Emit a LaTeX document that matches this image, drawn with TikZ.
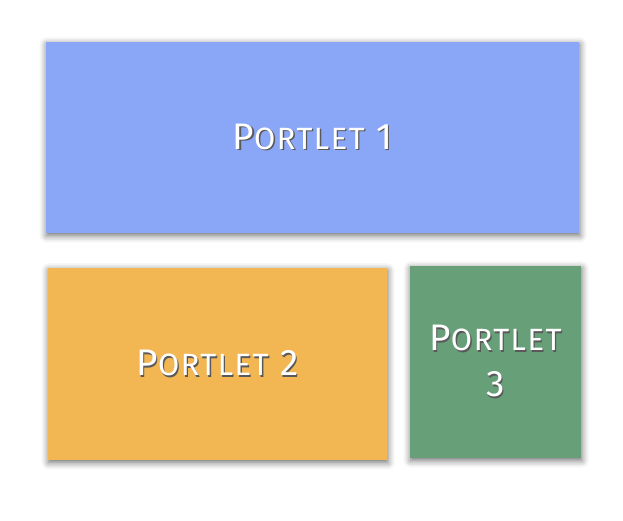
\documentclass[tikz,border=0pt]{standalone}
\usepackage{fontspec}
\newfontfamily\portletfont[LetterSpace=5]{Fira Sans}
\usetikzlibrary{shadows.blur}

\definecolor{portletblue}{HTML}{8AA6F6}
\definecolor{portletorange}{HTML}{F2B752}
\definecolor{portletgreen}{HTML}{67A078}

% white small caps with a soft dark shadow
\newcommand{\capword}{{\fontsize{21}{26}\selectfont P}{\fontsize{17.5}{26}\selectfont ORTLET}}
\newcommand{\shadowed}[1]{\makebox[0pt][l]{\hspace{0.8pt}\raisebox{-0.9pt}{\textcolor{black!65}{#1}}}\textcolor{white}{#1}}

\tikzset{
	portlet/.style={rectangle, inner sep=0pt, align=center,
		font=\portletfont\fontsize{21}{26}\selectfont,
		blur shadow={shadow xshift=0.4pt, shadow yshift=-1.4pt, shadow blur radius=4pt, shadow opacity=60}}
}

\begin{document}
\begin{tikzpicture}
		\useasboundingbox (0,0) rectangle (12.46,10.42);
		
		\node [portlet, fill=portletblue, minimum width=10.66cm, minimum height=3.82cm] (portlet1) at (6.25,7.67) {\shadowed{\capword\ 1}};
		
		\node [portlet, fill=portletorange, minimum width=6.78cm, minimum height=3.84cm] (portlet2) at (4.35,3.14) {\shadowed{\capword\ 2}};
		
		\node [portlet, fill=portletgreen, minimum width=3.42cm, minimum height=3.84cm] (portlet3) at (9.91,3.18) {\shadowed{\capword}\\\shadowed{3}};
	\end{tikzpicture}
\end{document}
